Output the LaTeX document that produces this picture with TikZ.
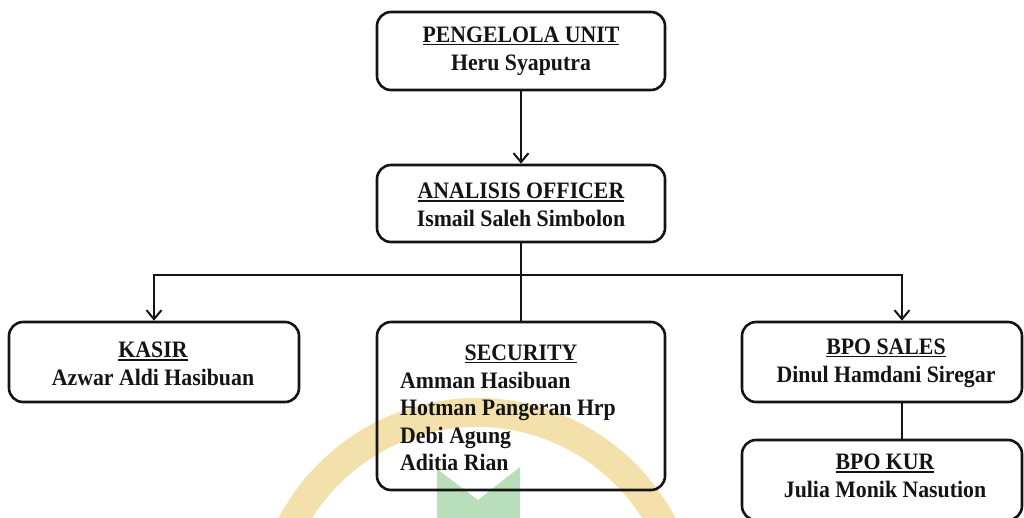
\documentclass[tikz,border=0pt]{standalone}
\usepackage{fontspec}
\setmainfont{Liberation Serif}
\usetikzlibrary{arrows.meta}
\definecolor{wmgold}{HTML}{F3E0AA}
\definecolor{wmgreen}{HTML}{B8DEBA}
\definecolor{ink}{HTML}{141414}
% slightly tall lettering
\newcommand{\tall}[1]{\scalebox{1}[1.08]{#1}}
% heading with a heavy underline
\newcommand{\headul}[1]{\setbox0\hbox{\tall{#1}}\rlap{\rule[-3.2pt]{\wd0}{1.7pt}}\box0}

\begin{document}
\begin{tikzpicture}[x=1pt,y=-1pt,
  unitbox/.style={draw=ink, line width=2.6pt, rounded corners=14pt, inner sep=0pt},
  lbl/.style={font=\bfseries\fontsize{21.8}{28}\selectfont, text=ink, align=center, inner sep=0pt},
  member/.style={font=\bfseries\fontsize{21.8}{28}\selectfont, text=ink, anchor=base west, inner sep=0pt},
  link/.style={draw=ink, line width=2pt},
  tip/.style={-{Straight Barb[length=9pt,width=15pt,line width=2pt]}}
]
\useasboundingbox (0,0) rectangle (1024,518);

% faint logo in the background
\draw[wmgold, line width=29pt] (477,622) circle[radius=209.5];
\fill[wmgreen] (437,530) -- (437,469) -- (478,500) -- (520,467) -- (520,530) -- cycle;

% unit boxes
\node[unitbox, minimum width=288, minimum height=78] (pu) at (521,51) {};
\node[unitbox, minimum width=288, minimum height=77] (ao) at (521,203.5) {};
\node[unitbox, minimum width=290, minimum height=80] (ks) at (154,362) {};
\node[unitbox, minimum width=288, minimum height=168] (sc) at (521,406) {};
\node[unitbox, minimum width=280, minimum height=80] (bs) at (882,362) {};
\node[unitbox, minimum width=280, minimum height=80] (bk) at (882,480) {};

% texts
\node[lbl] (put) at (521,51) {\headul{PENGELOLA UNIT}\\\tall{Heru Syaputra}};
\node[lbl] (aot) at (521,205) {\headul{ANALISIS OFFICER}\\\tall{Ismail Saleh Simbolon}};
\node[lbl] (kst) at (153,364) {\headul{KASIR}\\\tall{Azwar Aldi Hasibuan}};
\node[lbl] (bst) at (886,363) {\headul{BPO SALES}\\\tall{Dinul Hamdani Siregar}};
\node[lbl] (bkt) at (885,476) {\headul{BPO KUR}\\\tall{Julia Monik Nasution}};
\node[lbl] (sct) at (521,354) {\headul{SECURITY}};
\node[member] (m1) at (400,388) {\tall{Amman Hasibuan}};
\node[member] (m2) at (400,415) {\tall{Hotman Pangeran Hrp}};
\node[member] (m3) at (400,443) {\tall{Debi Agung}};
\node[member] (m4) at (400,470) {\tall{Aditia Rian}};

% connectors
\coordinate (bar) at (521,275);
\draw[link,tip] (pu.south) -- (ao.north);
\draw[link] (ao.south) -- (sc.north);
\draw[link,tip] (bar) -| (ks.north);
\draw[link,tip] (bar) -| ([xshift=20pt]bs.north);
\draw[link] ([xshift=20pt]bs.south) -- ([xshift=20pt]bk.north);
\end{tikzpicture}
\end{document}
